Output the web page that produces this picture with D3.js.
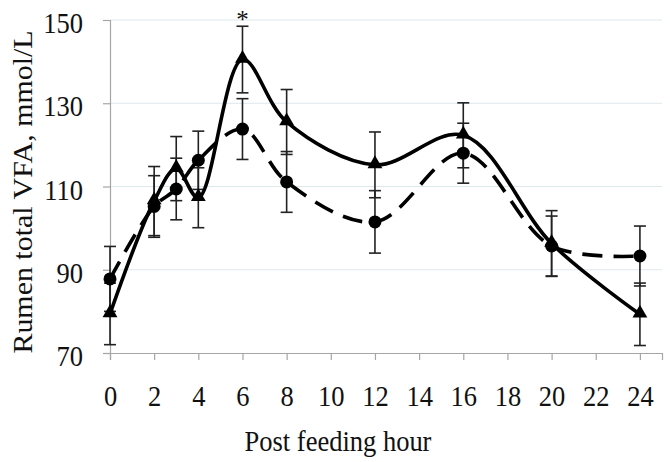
<!DOCTYPE html>
<html>
<head>
<meta charset="utf-8">
<script src="https://cdn.jsdelivr.net/npm/d3@7"></script>
<style>
body { margin: 0; background: #fff; }
text { font-family: "Liberation Serif", "Times New Roman", serif; fill: #111; }
</style>
</head>
<body>
<div id="chart"></div>
<script>
var width = 670;
var height = 462;
var margin = {left: 110, right: 8, top: 20, bottom: 109};
var fontSize = 26.5;
var stretch = 1.13; // the source text is a bit taller than it is wide

var hours = [0, 2, 3, 4, 6, 8, 12, 16, 20, 24];
var triangleMean = [79.4, 106.5, 114.3, 107.3, 140.5, 125.5, 115.2, 122.3, 96.3, 79.3];
var triangleErr = [7.4, 8.3, 7.7, 7.2, 8.0, 7.8, 7.9, 7.8, 7.9, 7.5];
var circleMean = [87.8, 105.2, 109.4, 116.3, 123.8, 111.1, 101.5, 118.0, 95.7, 93.3];
var circleErr = [7.8, 7.4, 7.4, 7.0, 7.3, 7.3, 7.5, 7.2, 7.2, 7.2];
var xTicks = [0, 2, 4, 6, 8, 10, 12, 14, 16, 18, 20, 22, 24];
var yTicks = [70, 90, 110, 130, 150];
var markHour = 6;

var svg = d3.select("#chart").append("svg")
	.attr("width", width)
	.attr("height", height);

var x = d3.scaleLinear().domain([0, 25]).range([margin.left, width - margin.right]);
var y = d3.scaleLinear().domain([70, 150]).range([height - margin.bottom, margin.top]);

// gridlines
svg.append("g").selectAll("line")
	.data(yTicks.slice(1))
	.enter().append("line")
	.attr("x1", x(0)).attr("x2", x(25))
	.attr("y1", function (d) { return y(d); })
	.attr("y2", function (d) { return y(d); })
	.style("stroke", "#dde8eb")
	.style("stroke-width", 1);

var yAxis = svg.append("g")
	.attr("transform", "translate(" + x(0) + ",0)")
	.call(d3.axisLeft(y).tickValues(yTicks).tickSize(7));
var xAxis = svg.append("g")
	.attr("transform", "translate(0," + y(70) + ")")
	.call(d3.axisBottom(x).tickValues(xTicks).tickSize(7));

[xAxis, yAxis].forEach(function (g) {
	g.select(".domain").style("stroke", "#a6a6a6").style("stroke-width", 1.2);
	g.selectAll(".tick line").style("stroke", "#a6a6a6").style("stroke-width", 1.2);
	g.selectAll("text")
		.style("font-family", "'Liberation Serif', serif")
		.style("font-size", fontSize + "px")
		.style("fill", "#111")
		.attr("x", 0).attr("y", 0).attr("dy", null);
});
yAxis.selectAll("text").attr("transform", "translate(-27,12.5) scale(1," + stretch + ")");
xAxis.selectAll("text").attr("transform", "translate(0,53) scale(1," + stretch + ")");

function seriesData(means, errs)
{
	return hours.map(function (h, i) { return {"hour": h, "mean": means[i], "err": errs[i]}; });
}
var triData = seriesData(triangleMean, triangleErr);
var cirData = seriesData(circleMean, circleErr);

var line = d3.line()
	.x(function (d) { return x(d.hour); })
	.y(function (d) { return y(d.mean); })
	.curve(d3.curveCatmullRom.alpha(0.5));

// error bars
function drawErrors(data)
{
	var g = svg.append("g").style("stroke", "#222").style("stroke-width", 1.6);
	g.selectAll(".v").data(data).enter().append("line")
		.attr("x1", function (d) { return x(d.hour); })
		.attr("x2", function (d) { return x(d.hour); })
		.attr("y1", function (d) { return y(d.mean - d.err); })
		.attr("y2", function (d) { return y(d.mean + d.err); });
	[-1, 1].forEach(function (s) {
		g.selectAll(".c" + s).data(data).enter().append("line")
			.attr("x1", function (d) { return x(d.hour) - 6; })
			.attr("x2", function (d) { return x(d.hour) + 6; })
			.attr("y1", function (d) { return y(d.mean + s * d.err); })
			.attr("y2", function (d) { return y(d.mean + s * d.err); });
	});
}
drawErrors(triData);
drawErrors(cirData);

svg.append("path")
	.datum(cirData)
	.attr("d", line)
	.style("fill", "none")
	.style("stroke", "#000")
	.style("stroke-width", 3.6)
	.style("stroke-dasharray", "20,11");

svg.append("path")
	.datum(triData)
	.attr("d", line)
	.style("fill", "none")
	.style("stroke", "#000")
	.style("stroke-width", 3.6);

svg.append("g").selectAll("circle")
	.data(cirData)
	.enter().append("circle")
	.attr("cx", function (d) { return x(d.hour); })
	.attr("cy", function (d) { return y(d.mean); })
	.attr("r", 6.5)
	.style("fill", "#000");

svg.append("g").selectAll("path")
	.data(triData)
	.enter().append("path")
	.attr("d", d3.symbol().type(d3.symbolTriangle).size(95))
	.attr("transform", function (d) { return "translate(" + x(d.hour) + "," + (y(d.mean) - 1) + ")"; })
	.style("fill", "#000");

// significance mark
var markIndex = hours.indexOf(markHour);
svg.append("text")
	.attr("x", x(markHour))
	.attr("y", y(triangleMean[markIndex] + triangleErr[markIndex]) + 2)
	.attr("text-anchor", "middle")
	.style("font-size", "25px")
	.text("*");

svg.append("text")
	.attr("transform", "translate(338,451) scale(1," + stretch + ")")
	.attr("text-anchor", "middle")
	.style("font-size", fontSize + "px")
	.text("Post feeding hour");

svg.append("text")
	.attr("transform", "translate(32,192) rotate(-90) scale(" + stretch + ",1)")
	.attr("text-anchor", "middle")
	.style("font-size", fontSize + "px")
	.text("Rumen total VFA, mmol/L");
</script>
</body>
</html>
